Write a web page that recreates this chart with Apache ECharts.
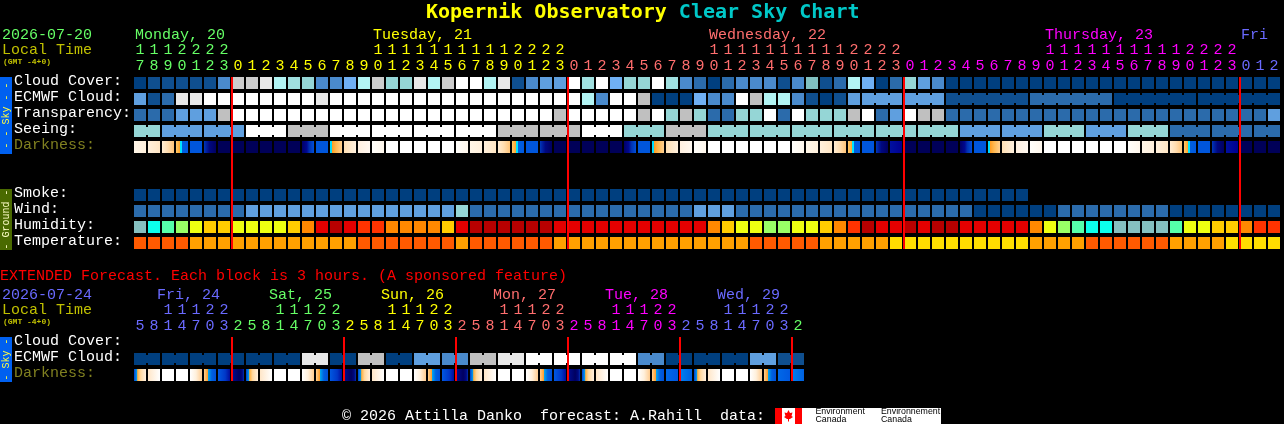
<!DOCTYPE html>
<html><head><meta charset="utf-8">
<style>html,body{margin:0;padding:0;background:#000}#c{width:1284px;height:424px}</style>
<script src="https://cdn.jsdelivr.net/npm/echarts@6/dist/echarts.min.js"></script>
</head><body><div id="c"></div>
<script>
// ---------- DATA ----------
const mainHours = [17,18,19,20,21,22,23,
 0,1,2,3,4,5,6,7,8,9,10,11,12,13,14,15,16,17,18,19,20,21,22,23,
 0,1,2,3,4,5,6,7,8,9,10,11,12,13,14,15,16,17,18,19,20,21,22,23,
 0,1,2,3,4,5,6,7,8,9,10,11,12,13,14,15,16,17,18,19,20,21,22,23,
 0,1,2];
const extHours = [5,8,11,14,17,20,23,2,5,8,11,14,17,20,23,2,5,8,11,14,17,20,23,2,
 5,8,11,14,17,20,23,2,5,8,11,14,17,20,23,2,5,8,11,14,17,20,23,2];
const mainDays = ['Monday, 20','Tuesday, 21','Wednesday, 22','Thursday, 23','Fri'];
const mainDayCells = [0,17,41,65,79];
const mainMidnights = [7,31,55,79];
const extDays = ['Fri, 24','Sat, 25','Sun, 26','Mon, 27','Tue, 28','Wed, 29'];
const extDayCells = [2,10,18,26,34,42];
const extMidnights = [7,15,23,31,39,47];
const mainRows = ['Cloud Cover:','ECMWF Cloud:','Transparency:','Seeing:','Darkness:','','','Smoke:','Wind:','Humidity:','Temperature:'];
const extRows = ['Cloud Cover:','ECMWF Cloud:','Darkness:'];

const cloudCover = [
 0,1,1,1,1,1,3,11,11,12,
 6,7,8,3,3,5,6,11,8,8,
 12,6,11,13,13,6,12,1,3,4,
 4,13,7,13,5,8,8,13,7,3,
 2,0,2,3,3,3,1,3,9,1,
 2,6,5,0,2,8,4,3,0,0,
 0,0,0,0,0,0,0,0,0,0,
 0,0,0,0,0,0,0,0,0,0,
 0,0];
const ecmwfCloud = [
 4,1,2,12,12,13,13,13,13,13,
 13,13,13,12,13,13,13,13,13,13,
 13,13,13,13,13,13,13,13,13,13,
 13,13,6,3,13,13,10,0,0,0,
 5,3,3,13,10,6,6,3,1,0,
 1,4,4,4,4,4,4,4,1,1,
 1,1,1,1,2,2,2,2,2,2,
 0,0,0,0,0,0,0,0,0,0,
 0,0];
const ecmwfBlocksStart = 52;
const ecmwfBlocks = [3,3,6,6,6,6];
const transparency = [
 2,2,2,4,4,4,10,13,13,13,
 13,13,13,13,13,13,13,13,13,13,
 13,13,13,13,13,13,13,13,13,13,
 10,13,13,13,13,13,10,13,8,10,
 8,2,2,8,8,13,2,13,8,8,
 8,10,13,2,4,13,10,10,2,2,
 2,2,2,2,2,2,2,2,2,2,
 2,2,2,2,2,2,2,2,2,2,
 2,4];
const seeing = [
 8,8,4,4,4,4,4,4,13,13,
 13,10,10,10,13,13,13,13,13,13,
 13,13,13,13,13,13,10,10,10,10,
 10,10,13,13,13,8,8,8,10,10,
 10,8,8,8,8,8,8,8,8,8,
 8,8,8,8,8,8,8,8,8,4,
 4,4,4,4,4,8,8,8,4,4,
 4,8,8,8,2,2,2,2,2,2,
 2,2];
const seeingBlocks = [2,3,3,3,3,3,3,3,3,3,3,3,3,3,3,3,3,3,3,3,3,3,3,3,3,3,3,2];
const darkness = [
 2,3,4,5,6,7,8,8,8,8,
 8,8,9,6,10,11,12,1,0,0,
 0,0,0,1,2,3,4,5,6,7,
 8,8,8,8,8,9,6,10,11,12,
 1,0,0,0,0,0,0,1,2,3,
 4,5,6,7,13,8,8,8,8,9,
 6,10,11,12,1,0,0,0,0,0,
 0,1,2,3,4,5,6,7,13,8,
 8,8];
const smoke = [
 0,0,0,0,0,0,0,0,0,0,
 0,0,0,0,0,0,0,0,0,0,
 0,0,0,0,0,0,0,0,0,0,
 0,0,0,0,0,0,0,0,0,0,
 0,0,0,0,0,0,0,0,0,0,
 0,0,0,0,0,0,0,0,0,0,
 0,0,0,0];
const wind = [
 2,2,2,2,2,2,2,2,4,4,
 4,4,4,4,4,4,4,4,4,4,
 4,4,4,8,2,2,2,2,2,2,
 2,2,2,2,2,2,2,2,2,2,
 4,4,4,2,2,2,2,2,2,2,
 2,2,2,2,2,2,2,2,2,2,
 0,0,0,0,0,0,2,2,2,2,
 2,2,2,2,0,0,0,0,0,0,
 0,0];
const humidity = [
 0,1,2,3,4,5,5,4,4,4,
 4,5,6,8,9,8,7,7,6,6,
 6,6,5,8,9,9,9,9,9,9,
 8,8,8,8,8,8,8,8,8,8,
 8,6,5,4,4,3,3,4,4,5,
 6,7,9,8,8,9,8,9,9,8,
 8,8,8,8,6,4,3,2,1,1,
 0,0,0,0,2,4,4,5,5,6,
 7,7];
const temperature = [
 0,0,0,0,1,1,1,1,1,1,
 1,1,1,1,1,1,0,0,0,0,
 0,0,0,1,0,0,0,0,0,0,
 1,1,1,1,1,1,1,1,1,1,
 1,1,1,1,0,0,0,0,0,1,
 1,1,1,1,2,2,2,2,2,2,
 2,2,2,2,1,1,1,1,0,0,
 0,0,0,0,1,1,1,1,2,2,
 2,2];
const extCloud = [
 0,0,0,0,0,0,0,0,0,0,0,0,12,12,0,0,10,10,0,0,4,4,3,3,
 10,10,12,12,13,13,13,13,13,13,13,13,3,3,0,0,0,0,0,0,4,4,1,1];
const extBlocks = [2,2,2,2,2,2,2,2,2,2,2,2,2,2,2,2,2,2,2,2,2,2,2,2];
const extDarkness = [
 14,15,0,0,16,17,18,19,
 14,15,0,0,16,17,18,19,
 14,15,0,0,16,17,18,19,
 14,15,0,0,16,17,18,19,
 14,15,0,0,16,17,20,21,
 14,15,0,0,16,17,20,21];

// ---------- STYLE ----------
const MONO = '"Liberation Mono", monospace';
const skyColors = ['#003f7f','#0f4f8f','#2b6bab','#4a8acc','#5f9fdf','#70b0f4','#b2f4f4','#a0e0e0','#95d6d6','#80c0c0','#c0c0c0','#cccccc','#e8e8e8','#ffffff'];
const humColors = ['#85c0c0','#0cffec','#55ffaa','#99ff66','#eeff11','#ffcc00','#ff8800','#ff3300','#e40000','#b80000'];
const tempColors = ['#ff5a00','#ffa000','#ffdd00'];
function grad(...stops){
  return {type:'linear',x:0,y:0,x2:1,y2:0,colorStops:stops.map(s=>({offset:s[0],color:s[1]}))};
}
const darkColors = [
 '#ffffff',
 grad([0,'#fffefb'],[1,'#fff7ec']),
 grad([0,'#fff6e8'],[1,'#fff0dc']),
 grad([0,'#fff0dc'],[1,'#ffe6c4']),
 grad([0,'#ffecd2'],[0.5,'#ffdcae'],[1,'#ffc478']),
 grad([0,'#ffc86a'],[0.3,'#ffa830'],[0.31,'#ffa830'],[0.32,'#00e4ff'],[0.5,'#00e4ff'],[0.51,'#0060e0'],[1,'#0058e0']),
 '#0056dc',
 grad([0,'#0038b8'],[0.2,'#0020a0'],[0.45,'#000880'],[1,'#000060']),
 '#000058',
 grad([0,'#000068'],[0.4,'#000890'],[0.6,'#0030b0'],[1,'#0050dc']),
 grad([0,'#00dcff'],[0.16,'#00dcff'],[0.17,'#ff9c20'],[0.5,'#ffb850'],[1,'#ffd090']),
 grad([0,'#ffe0b4'],[1,'#fff0de']),
 grad([0,'#fff0e0'],[1,'#fff8f0']),
 grad([0,'#0010a0'],[1,'#000090']),
 grad([0,'#0040d0'],[0.25,'#00a0f0'],[0.3,'#ffb040'],[0.55,'#ffd8a0'],[1,'#fff0e0']),
 grad([0,'#ffe6c8'],[1,'#ffffff']),
 grad([0,'#ffffff'],[0.5,'#fff0dc'],[1,'#ffcc90']),
 grad([0,'#ffd090'],[0.3,'#ffa030'],[0.34,'#00a8f0'],[0.65,'#0060e0'],[1,'#0050d8']),
 grad([0,'#0058e0'],[0.6,'#0038c8'],[1,'#000c9c']),
 grad([0,'#000c90'],[0.6,'#000060'],[0.85,'#000880'],[1,'#0030b0']),
 grad([0,'#0068e8'],[1,'#0058e0']),
 grad([0,'#0080f0'],[1,'#0060e0'])
];
const mainDayColors = ['#66ff66','#ffff00','#ff6e6e','#ff00ff','#6a6aff'];
const extDayColors = ['#6a6aff','#66ff66','#ffff00','#ff6e6e','#ff00ff','#6a6aff','#66ff66'];

// ---------- HELPERS ----------
const CELL = 12, NECK = 2;
function joinsFrom(sizes, start){
  const j = new Set(); let p = start;
  sizes.forEach(n => { for (let k = 0; k < n - 1; k++) j.add(p + k); p += n; });
  return j;
}
function rows(gridIdx, xIdx, yIdx, row, values, palette, joins){
  return {
    type:'custom', name: (gridIdx ? 'ext ' : '') + row, xAxisIndex:xIdx, yAxisIndex:yIdx,
    silent:true, animation:false, z:2, encode:{x:0,y:1},
    data: values.map((v,i)=>[i,row,v,joins && joins.has(i) ? 1 : 0]),
    dimensions:[{name:'x',type:'number'},{name:'y',type:'ordinal'},{name:'v',type:'number'},{name:'j',type:'number'}],
    renderItem(params, api){
      const p = api.coord([api.value(0), row]);
      const x = p[0] - CELL/2, y = p[1] - CELL/2, fill = palette[api.value(2)];
      const ch = [{type:'rect',shape:{x,y,width:CELL,height:CELL},style:{fill}}];
      if (api.value(3)) ch.push({type:'rect',shape:{x:x+CELL,y:y+2,width:NECK,height:CELL-4},style:{fill}});
      return {type:'group',children:ch};
    }
  };
}
function redLines(xIdx, yIdx, cells, firstRow, lastRow){
  return {
    type:'custom', name:'midnight', xAxisIndex:xIdx, yAxisIndex:yIdx, silent:true, animation:false, z:20,
    data: cells.map(c=>[c]), encode:{x:0},
    renderItem(params, api){
      const a = api.coord([api.value(0), firstRow]), b = api.coord([api.value(0), lastRow]);
      return {type:'rect',z2:100,shape:{x:a[0]-7,y:a[1]-6,width:2,height:b[1]-a[1]+12},style:{fill:'#ff0000',opacity:1}};
    }
  };
}
function dayLabels(xIdx, yIdx, cells, names, colors, firstRow, dx){
  return {
    type:'custom', name:'days', xAxisIndex:xIdx, yAxisIndex:yIdx, silent:true, animation:false,
    data: cells.map((c,i)=>[c,i]), encode:{x:0},
    renderItem(params, api){
      const i = api.value(1), p = api.coord([api.value(0), firstRow]);
      return {type:'text',style:{text:names[i],x:p[0]+dx,y:p[1]-48,fill:colors[i],font:'15px '+MONO,align:'left',verticalAlign:'middle'}};
    }
  };
}
function dayIndex(i, mids){ let d = 0; mids.forEach(m => { if (i >= m) d++; }); return d; }
function hourAxis(grid, hours, mids, colors, digit, offset){
  return {
    type:'category', gridIndex:grid, position:'top', offset,
    data: hours.map(h => digit === 'u' ? String(h % 10) : (h >= 10 ? String(Math.floor(h/10)) : '')),
    axisLine:{show:false}, axisTick:{show:false}, splitLine:{show:false},
    axisLabel:{show:true, interval:0, margin:1, hideOverlap:false, fontFamily:MONO, fontSize:15,
      color:(v,i)=>colors[dayIndex(i,mids)]}
  };
}
function rowAxis(grid, names){
  return {
    type:'category', gridIndex:grid, inverse:true, data:names,
    axisLine:{show:false}, axisTick:{show:false}, splitLine:{show:false},
    axisLabel:{show:true, interval:0, align:'left', margin:119, hideOverlap:false, fontFamily:MONO, fontSize:15,
      verticalAlign:'bottom', lineHeight:3,
      color:v => v === 'Darkness:' ? '#808020' : '#ffffff'}
  };
}
function txt(text,x,y,fill,size,extra){
  return Object.assign({type:'text',x,y,silent:true,style:{text,fill,font:(extra&&extra.weight?extra.weight+' ':'')+size+'px '+MONO,verticalAlign:'middle',align:(extra&&extra.align)||'left'}},
    extra&&extra.rotation?{rotation:extra.rotation}:{});
}
function rect(x,y,w,h,fill){return {type:'rect',silent:true,shape:{x,y,width:w,height:h},style:{fill}};}

const R = Math.PI/2;
const graphicEls = [
 rect(0,77,12,77,'#0060f0'),
 txt('- - Sky - -',6,115.5,'#ffff40',10,{align:'center',rotation:R}),
 rect(0,189,12,61,'#4a6a00'),
 txt('- Ground -',6,219.5,'#ffffc8',10,{align:'center',rotation:R}),
 rect(0,337,12,45,'#0060f0'),
 txt('- Sky -',6,359.5,'#ffff40',10,{align:'center',rotation:R}),
 txt('2026-07-20',2,35,'#66ff66',15),
 txt('Local Time',2,50,'#c0c000',15),
 txt('(GMT -4+0)',3,62,'#c0c000',8,{weight:'bold'}),
 txt('EXTENDED Forecast. Each block is 3 hours. (A sponsored feature)',0,276.5,'#ff0000',15),
 txt('2026-07-24',2,295,'#6a6aff',15),
 txt('Local Time',2,310,'#c0c000',15),
 txt('(GMT -4+0)',3,322,'#c0c000',8,{weight:'bold'}),
 txt('\u00a9 2026 Attilla Danko  forecast: A.Rahill  data:',342,416,'#ffffff',15),
 rect(775,408,27,16,'#ff0000'),
 rect(782,408,13,16,'#ffffff'),
 {type:'polygon',silent:true,shape:{points:[[788.5,410],[790,413],[792.5,412.5],[791.5,416],[793,417],[790,419],[789,419],[789,421.5],[788,421.5],[788,419],[787,419],[784,417],[785.5,416],[784.5,412.5],[787,413]]},style:{fill:'#ff0000'}},
 rect(802,408,139,16,'#ffffff'),
 {type:'text',x:815.5,y:408,silent:true,style:{text:'Environment\nCanada',fill:'#000000',font:'8.8px "Liberation Sans"',lineHeight:8,verticalAlign:'top'}},
 {type:'text',x:881,y:408,silent:true,style:{text:'Environnement\nCanada',fill:'#000000',font:'8.8px "Liberation Sans"',lineHeight:8,verticalAlign:'top'}}
];

const chart = echarts.init(document.getElementById('c'), null, {renderer:'canvas', width:1284, height:424});
chart.setOption({
  backgroundColor:'#000000',
  animation:false,
  title:{
    left:426, top:3, padding:0,
    text:'{a|Kopernik Observatory }{b|Clear Sky Chart}',
    textStyle:{rich:{
      a:{color:'#ffff00',fontFamily:'"DejaVu Sans Mono", monospace',fontWeight:'bold',fontSize:20},
      b:{color:'#00c8c8',fontFamily:'"DejaVu Sans Mono", monospace',fontWeight:'bold',fontSize:20}
    }}
  },
  tooltip:{show:false},
  grid:[
    {left:133, top:75, width:82*14, height:11*16, containLabel:false},
    {left:133, top:335, width:48*14, height:3*16, containLabel:false}
  ],
  xAxis:[
    hourAxis(0, mainHours, mainMidnights, mainDayColors, 'u', 0),
    hourAxis(0, mainHours, mainMidnights, mainDayColors, 't', 16),
    hourAxis(1, extHours, extMidnights, extDayColors, 'u', 0),
    hourAxis(1, extHours, extMidnights, extDayColors, 't', 16)
  ],
  yAxis:[ rowAxis(0, mainRows), rowAxis(1, extRows) ],
  graphic:{elements:graphicEls},
  series:[
    rows(0,0,0,'Cloud Cover:',cloudCover,skyColors),
    rows(0,0,0,'ECMWF Cloud:',ecmwfCloud,skyColors,joinsFrom(ecmwfBlocks,ecmwfBlocksStart)),
    rows(0,0,0,'Transparency:',transparency,skyColors),
    rows(0,0,0,'Seeing:',seeing,skyColors,joinsFrom(seeingBlocks,0)),
    rows(0,0,0,'Darkness:',darkness,darkColors),
    rows(0,0,0,'Smoke:',smoke,skyColors),
    rows(0,0,0,'Wind:',wind,skyColors),
    rows(0,0,0,'Humidity:',humidity,humColors),
    rows(0,0,0,'Temperature:',temperature,tempColors),
    rows(1,2,1,'ECMWF Cloud:',extCloud,skyColors,joinsFrom(extBlocks,0)),
    rows(1,2,1,'Darkness:',extDarkness,darkColors),
    dayLabels(0,0,mainDayCells,mainDays,mainDayColors,'Cloud Cover:',-5),
    dayLabels(2,1,extDayCells,extDays,extDayColors,'Cloud Cover:',-11),
    redLines(0,0,mainMidnights,'Cloud Cover:','Temperature:'),
    redLines(2,1,extMidnights,'Cloud Cover:','Darkness:')
  ]
});
</script></body></html>
